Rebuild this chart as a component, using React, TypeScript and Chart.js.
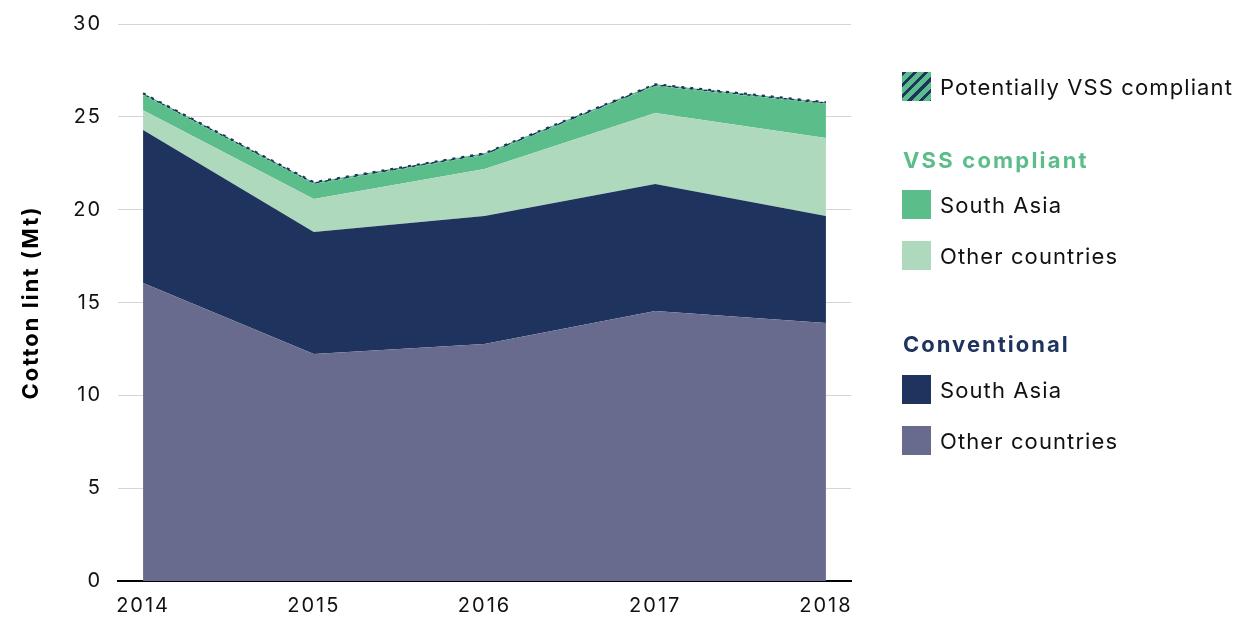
import React, { useEffect, useRef } from "react";
import { Chart, registerables } from "chart.js";

Chart.register(...registerables);

const years = [2014, 2015, 2016, 2017, 2018];
const conventionalOther = [16.05, 12.22, 12.76, 14.54, 13.9];
const conventionalSouthAsia = [8.24, 6.58, 6.9, 6.84, 5.76];
const vssOther = [1.07, 1.77, 2.53, 3.82, 4.2];
const vssSouthAsia = [0.81, 0.81, 0.75, 1.46, 1.83];
const potentiallyVss = [0.1, 0.1, 0.1, 0.1, 0.1];
const yTicks = [0, 5, 10, 15, 20, 25, 30];

const NAVY = "#1f335f";
const SLATE = "#686b8d";
const GREEN = "#5bbd8a";
const LIGHT_GREEN = "#aed9bd";
const FONT = "Inter, 'Noto Sans', sans-serif";

function makePattern(): CanvasPattern | string {
  const c = document.createElement("canvas");
  c.width = 8;
  c.height = 8;
  const ctx = c.getContext("2d");
  if (!ctx) return GREEN;
  ctx.fillStyle = GREEN;
  ctx.fillRect(0, 0, 8, 8);
  ctx.strokeStyle = NAVY;
  ctx.lineWidth = 2.5;
  ctx.beginPath();
  ctx.moveTo(-2, 10);
  ctx.lineTo(10, -2);
  ctx.moveTo(-2, 2);
  ctx.lineTo(2, -2);
  ctx.moveTo(6, 10);
  ctx.lineTo(10, 6);
  ctx.stroke();
  return ctx.createPattern(c, "repeat") || GREEN;
}

const toPts = (arr: number[]) => arr.map((v, i) => ({ x: years[i], y: v }));

const spacingPlugin = {
  id: "spacing",
  beforeDraw: (chart: any) => {
    (chart.ctx as any).letterSpacing = "2px";
  },
  afterDraw: (chart: any) => {
    (chart.ctx as any).letterSpacing = "0px";
  },
};

export default function App() {
  const ref = useRef<HTMLCanvasElement>(null);
  useEffect(() => {
    if (!ref.current) return;
    const pattern = makePattern();
    const base = {
      pointRadius: 0,
      tension: 0,
      borderWidth: 0,
    };
    const chart = new Chart(ref.current, {
      type: "line",
      plugins: [spacingPlugin],
      data: {
        datasets: [
          { ...base, label: "Conventional – Other countries", data: toPts(conventionalOther), backgroundColor: SLATE, borderColor: SLATE, fill: "origin" },
          { ...base, label: "Conventional – South Asia", data: toPts(conventionalSouthAsia), backgroundColor: NAVY, borderColor: NAVY, fill: "-1" },
          { ...base, label: "VSS compliant – Other countries", data: toPts(vssOther), backgroundColor: LIGHT_GREEN, borderColor: LIGHT_GREEN, fill: "-1" },
          { ...base, label: "VSS compliant – South Asia", data: toPts(vssSouthAsia), backgroundColor: GREEN, borderColor: GREEN, fill: "-1" },
          {
            ...base,
            label: "Potentially VSS compliant",
            data: toPts(potentiallyVss),
            backgroundColor: pattern as any,
            borderColor: NAVY,
            borderWidth: 2,
            borderDash: [3, 6],
            fill: "-1",
          },
        ],
      },
      options: {
        animation: false,
        responsive: false,
        maintainAspectRatio: false,
        layout: { padding: { left: 0, right: 388, top: 0, bottom: 1 } },
        plugins: { legend: { display: false }, tooltip: { enabled: false } },
        scales: {
          x: {
            type: "linear",
            min: 2013.853,
            max: 2018.147,
            afterBuildTicks: (axis: any) => {
              axis.ticks = years.map((v) => ({ value: v }));
            },
            ticks: {
              color: "#111",
              font: { family: FONT, size: 20, lineHeight: 1 },
              padding: 15,
              maxRotation: 0,
              callback: (v: any) => String(v),
            },
            grid: { display: false, drawTicks: false },
            border: { display: true, color: "#000", width: 2 },
          },
          y: {
            stacked: true,
            min: 0,
            max: 30,
            afterBuildTicks: (axis: any) => {
              axis.ticks = yTicks.map((v) => ({ value: v }));
            },
            afterFit: (axis: any) => {
              axis.width = 118;
            },
            ticks: {
              color: "#111",
              font: { family: FONT, size: 20 },
              padding: 16,
            },
            grid: { color: "#d6d6d6", lineWidth: 1, drawTicks: false },
            border: { display: false },
            title: {
              display: true,
              text: "Cotton lint (Mt)",
              color: "#000",
              font: { family: FONT, size: 22, weight: "bold" },
              padding: { top: 18, bottom: 4 },
            },
          },
        },
      },
    });
    return () => chart.destroy();
  }, []);

  const swatch = (bg: string, top: number, extra: any = {}) => (
    <div style={{ position: "absolute", left: 902, top, width: 29, height: 29, background: bg, ...extra }} />
  );
  const text = (t: string, centerY: number, style: any = {}) => (
    <div
      style={{
        position: "absolute",
        left: 940,
        top: centerY - 14,
        height: 28,
        lineHeight: "28px",
        fontFamily: FONT,
        fontSize: 22,
        letterSpacing: "1.1px",
        color: "#111",
        whiteSpace: "nowrap",
        ...style,
      }}
    >
      {t}
    </div>
  );

  return (
    <div style={{ position: "fixed", left: 0, top: 0, width: 1239, height: 617, background: "#fff", overflow: "hidden" }}>
      <canvas ref={ref} width={1239} height={636} style={{ position: "absolute", left: 0, top: -4 }} />
      {swatch(GREEN, 72, {
        backgroundImage: `repeating-linear-gradient(135deg, ${NAVY} 0 3px, ${GREEN} 3px 8px)`,
      })}
      {text("Potentially VSS compliant", 87)}
      {text("VSS compliant", 160, { left: 903, fontWeight: 700, color: GREEN, letterSpacing: "2.2px" })}
      {swatch(GREEN, 190)}
      {text("South Asia", 205)}
      {swatch(LIGHT_GREEN, 241)}
      {text("Other countries", 256)}
      {text("Conventional", 344, { left: 903, fontWeight: 700, color: NAVY, letterSpacing: "2px" })}
      {swatch(NAVY, 375)}
      {text("South Asia", 390)}
      {swatch(SLATE, 426)}
      {text("Other countries", 441)}
    </div>
  );
}
